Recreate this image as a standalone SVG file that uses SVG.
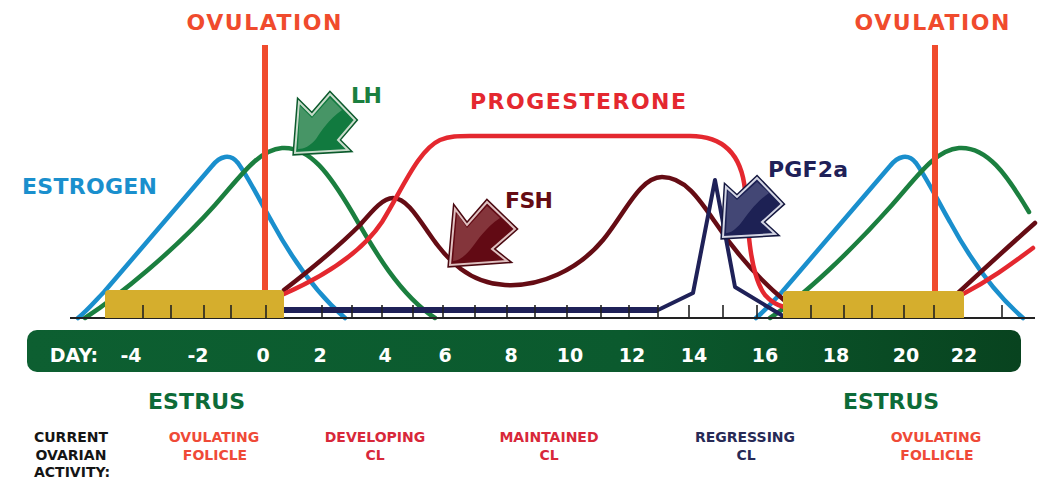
<svg xmlns="http://www.w3.org/2000/svg" width="1043" height="478" viewBox="0 0 1043 478">
<style>
text{font-family:"DejaVu Sans","Liberation Sans",sans-serif;font-weight:bold}
.c{fill:none;stroke-width:4.5;stroke-linecap:round;stroke-linejoin:round}
.blue{stroke:#1a8fcd}
.green{stroke:#1b7f3f}
.prog{stroke:#e4282f}
.fsh{stroke:#650c14}
.pgf{stroke:#1f2158}
.ov{stroke:#f04b2d;stroke-width:6}
.tick{stroke:#222;stroke-width:1.6}
.day{fill:#fff;font-size:19px;text-anchor:middle}
.lbl{font-size:22px}
.act{font-size:14px;text-anchor:middle}
.yel{fill:#d5ae2d}
</style>
<defs>
<linearGradient id="gbar" x1="0" y1="0" x2="1" y2="0">
<stop offset="0" stop-color="#0d5f31"/>
<stop offset="0.6" stop-color="#0b5a2e"/>
<stop offset="1" stop-color="#08431f"/>
</linearGradient>
</defs>

<g id="day-bar">
<rect x="27" y="330" width="994" height="42" rx="10" fill="url(#gbar)"/>
<text class="day" x="74" y="362">DAY:</text>
<text class="day" x="131" y="362">-4</text>
<text class="day" x="198" y="362">-2</text>
<text class="day" x="263" y="362">0</text>
<text class="day" x="320" y="362">2</text>
<text class="day" x="385" y="362">4</text>
<text class="day" x="445" y="362">6</text>
<text class="day" x="511" y="362">8</text>
<text class="day" x="570" y="362">10</text>
<text class="day" x="632" y="362">12</text>
<text class="day" x="694" y="362">14</text>
<text class="day" x="765" y="362">16</text>
<text class="day" x="836" y="362">18</text>
<text class="day" x="906" y="362">20</text>
<text class="day" x="964" y="362">22</text>
</g>

<g id="curves">
<path class="c blue" d="M78,318 C88,310 96,300 104,292 L212,166 C220,156 230,153 238,163 C250,180 262,205 272,222 C290,255 315,292 345,318"/>
<path class="c blue" transform="translate(678,0)" d="M78,318 C88,310 96,300 104,292 L212,166 C220,156 230,153 238,163 C250,180 262,205 272,222 C290,255 315,292 345,318"/>
<path class="c green" d="M85,318 C120,295 175,250 215,205 C240,177 258,150 282,148 C310,146 330,175 352,212 C375,252 400,295 435,318"/>
<path class="c green" d="M770,318 C805,295 852,250 892,205 C917,177 935,150 959,148 C987,146 1007,175 1029,212"/>
<path class="c fsh" d="M284,290 C310,270 340,245 360,225 C373,210 383,198 393,198 C405,198 415,213 428,232 C448,262 470,283 505,285 C540,287 578,270 603,240 C625,213 640,177 662,177 C685,177 700,200 715,222 C735,252 760,280 784,300"/>
<path class="c fsh" d="M958,293 C985,268 1010,245 1035,223"/>
<path class="c prog" d="M284,294 C320,278 360,255 382,222 C402,190 418,150 440,140 C450,136 458,136 470,136 L690,136 C728,136 742,160 745,190 C748,230 750,275 765,295 C772,303 778,305 784,307"/>
<path class="c prog" d="M963,294 C990,280 1010,265 1033,248"/>
<path class="c pgf" style="stroke-width:6;stroke-linecap:butt" d="M284,310 L658,310"/>
<path class="c pgf" style="stroke-width:4" d="M658,310 L693,293 L715,180 L735,287 L783,316"/>
</g>

<g id="axis">
<line x1="70" y1="318" x2="1035" y2="318" stroke="#222" stroke-width="2"/>
<path class="yel" d="M105,318 V294 Q105,290 109,290 H280 Q284,290 284,294 V318 Z"/>
<path class="yel" d="M783,318 V295 Q783,291 787,291 H960 Q964,291 964,295 V318 Z"/>
<g class="tick">
<line x1="143" y1="305" x2="143" y2="318"/>
<line x1="171" y1="305" x2="171" y2="318"/>
<line x1="204" y1="305" x2="204" y2="318"/>
<line x1="231" y1="305" x2="231" y2="318"/>
<line x1="266" y1="305" x2="266" y2="318"/>
<line x1="322" y1="305" x2="322" y2="318"/>
<line x1="352" y1="305" x2="352" y2="318"/>
<line x1="382" y1="305" x2="382" y2="318"/>
<line x1="413" y1="305" x2="413" y2="318"/>
<line x1="443" y1="305" x2="443" y2="318"/>
<line x1="475" y1="305" x2="475" y2="318"/>
<line x1="507" y1="305" x2="507" y2="318"/>
<line x1="535" y1="305" x2="535" y2="318"/>
<line x1="567" y1="305" x2="567" y2="318"/>
<line x1="601" y1="305" x2="601" y2="318"/>
<line x1="629" y1="305" x2="629" y2="318"/>
<line x1="658" y1="305" x2="658" y2="318"/>
<line x1="689" y1="305" x2="689" y2="318"/>
<line x1="723" y1="305" x2="723" y2="318"/>
<line x1="757" y1="305" x2="757" y2="318"/>
<line x1="811" y1="305" x2="811" y2="318"/>
<line x1="844" y1="305" x2="844" y2="318"/>
<line x1="872" y1="305" x2="872" y2="318"/>
<line x1="904" y1="305" x2="904" y2="318"/>
<line x1="934" y1="305" x2="934" y2="318"/>
<line x1="1002" y1="305" x2="1002" y2="318"/>
</g>
</g>

<g id="ovulation-left">
<line class="ov" x1="265" y1="45" x2="265" y2="290"/>
<text x="264" y="30" class="lbl" fill="#f04b2d" font-size="23.5" text-anchor="middle" textLength="155">OVULATION</text>
</g>
<g id="ovulation-right">
<line class="ov" x1="935" y1="45" x2="935" y2="291"/>
<text x="932" y="30" class="lbl" fill="#f04b2d" font-size="23.5" text-anchor="middle" textLength="155">OVULATION</text>
</g>

<g id="lh-arrow">
<polygon points="295,153 299,102 312,115 330,94 355,120 338,140 348,150" fill="#117a3f" stroke="#0b5a2c" stroke-width="5" stroke-linejoin="miter"/>
<polygon points="295,153 299,102 312,115 330,94 355,120 338,140 348,150" fill="#117a3f" stroke="#c9dccb" stroke-width="2" stroke-linejoin="miter"/>
<path d="M298,149 L300,106 L312,118 L330,98 L342,110 C328,120 322,130 316,139 C310,146 304,149 298,149 Z" fill="#5a9f74" opacity="0.75"/>
</g>
<g id="fsh-arrow">
<polygon points="450,265 455,209 467,225 487,202 515,229 492,249 507,261" fill="#620a14" stroke="#4a0810" stroke-width="5" stroke-linejoin="miter"/>
<polygon points="450,265 455,209 467,225 487,202 515,229 492,249 507,261" fill="#620a14" stroke="#dfc0c0" stroke-width="2" stroke-linejoin="miter"/>
<path d="M453,261 L457,213 L467,228 L487,206 L500,218 C485,228 478,240 470,250 C464,257 458,261 453,261 Z" fill="#93474c" opacity="0.7"/>
</g>
<g id="pgf-arrow">
<polygon points="723,237 726,187 737,197 757,178 782,204 762,222 775,234" fill="#1d2154" stroke="#151840" stroke-width="5" stroke-linejoin="miter"/>
<polygon points="723,237 726,187 737,197 757,178 782,204 762,222 775,234" fill="#1d2154" stroke="#d4d6e4" stroke-width="2" stroke-linejoin="miter"/>
<path d="M726,233 L728,191 L737,200 L757,182 L769,193 C755,203 748,214 741,223 C736,229 731,233 726,233 Z" fill="#545883" opacity="0.7"/>
</g>

<g id="labels">
<text id="estrogen" x="22" y="194" class="lbl" fill="#1a8fcd" textLength="135">ESTROGEN</text>
<text id="lh" x="351" y="103" class="lbl" fill="#1b7f3f" font-size="23" textLength="31">LH</text>
<text id="progesterone" x="470" y="109" class="lbl" fill="#e4282f" font-size="23" textLength="216">PROGESTERONE</text>
<text id="fsh" x="505" y="208" class="lbl" fill="#650c14" textLength="48">FSH</text>
<text id="pgf2a" x="768" y="177" class="lbl" fill="#1f2158" textLength="80">PGF2a</text>
<text id="estrus-left" x="148" y="409" class="lbl" fill="#0d6b38" textLength="97">ESTRUS</text>
<text id="estrus-right" x="843" y="409" class="lbl" fill="#0d6b38" textLength="96">ESTRUS</text>
</g>

<g id="activity">
<text class="act" fill="#151515"><tspan x="71" y="442">CURRENT</tspan><tspan x="71" y="460">OVARIAN</tspan><tspan x="72" y="477">ACTIVITY:</tspan></text>
<text class="act" fill="#ef4a37"><tspan x="214" y="442">OVULATING</tspan><tspan x="215" y="460">FOLICLE</tspan></text>
<text class="act" fill="#d8283a"><tspan x="375" y="442">DEVELOPING</tspan><tspan x="375" y="460">CL</tspan></text>
<text class="act" fill="#d8283a"><tspan x="549" y="442">MAINTAINED</tspan><tspan x="549" y="460">CL</tspan></text>
<text class="act" fill="#272a56"><tspan x="745" y="442">REGRESSING</tspan><tspan x="746" y="460">CL</tspan></text>
<text class="act" fill="#ef4a37"><tspan x="936" y="442">OVULATING</tspan><tspan x="937" y="460">FOLLICLE</tspan></text>
</g>
</svg>
